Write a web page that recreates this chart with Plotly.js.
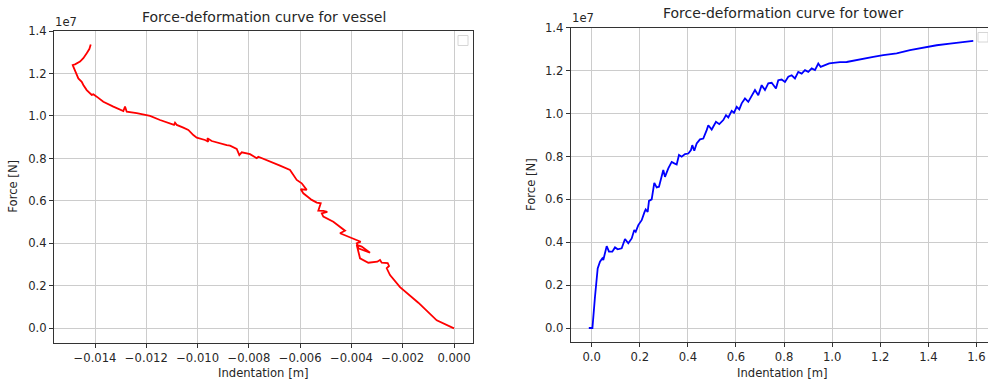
<!DOCTYPE html>
<html>
<head>
<meta charset="utf-8">
<script src="https://cdn.plot.ly/plotly-3.0.1.min.js"></script>
<style>
html,body{margin:0;padding:0;background:#fff;overflow:hidden;width:988px;height:383px;}
#chart{width:1000px;height:383px;}
</style>
</head>
<body>
<div id="chart"></div>
<script>
// Vessel: indentation [m] and force [1e7 N]
const vesselIndentation = [0, -0.000675, -0.001392, -0.002106, -0.002496, -0.002625, -0.002535, -0.002586, -0.00282, -0.002886,
  -0.002991, -0.003342, -0.003666, -0.003732, -0.003794, -0.0036, -0.003276, -0.003732, -0.003794, -0.003638,
  -0.003861, -0.004122, -0.004317, -0.004446, -0.004251, -0.004446, -0.004707, -0.005097, -0.005159, -0.004941,
  -0.005097, -0.005292, -0.005198, -0.005354, -0.005549, -0.005877, -0.005978, -0.005744, -0.0059, -0.005939,
  -0.006134, -0.006267, -0.006396, -0.006786, -0.007304, -0.007632, -0.007694, -0.007955, -0.008279, -0.008373,
  -0.008474, -0.008735, -0.008864, -0.009192, -0.009449, -0.00962, -0.009582, -0.00971, -0.010034, -0.010166,
  -0.010362, -0.010557, -0.010814, -0.01088, -0.010919, -0.011465, -0.01166, -0.011543, -0.011855, -0.012374,
  -0.012764, -0.01283, -0.012896, -0.013286, -0.013676, -0.013934, -0.014066, -0.014129, -0.014324, -0.014456,
  -0.014519, -0.014651, -0.014714, -0.01478, -0.014846, -0.01487, -0.01478, -0.014585, -0.014456, -0.014324,
  -0.014222, -0.014168];
const vesselForce = [0, 0.038, 0.121, 0.194, 0.251, 0.283, 0.294, 0.307, 0.309, 0.322,
  0.314, 0.309, 0.330, 0.361, 0.393, 0.385, 0.356, 0.377, 0.401, 0.408,
  0.419, 0.432, 0.440, 0.448, 0.460, 0.479, 0.502, 0.526, 0.542, 0.549,
  0.553, 0.554, 0.589, 0.592, 0.605, 0.636, 0.655, 0.652, 0.675, 0.683,
  0.699, 0.722, 0.746, 0.766, 0.793, 0.808, 0.801, 0.820, 0.829, 0.816,
  0.845, 0.860, 0.863, 0.874, 0.882, 0.895, 0.879, 0.887, 0.898, 0.910,
  0.934, 0.945, 0.958, 0.968, 0.958, 0.981, 0.992, 0.986, 1.000, 1.013,
  1.020, 1.044, 1.023, 1.044, 1.067, 1.091, 1.102, 1.099, 1.122, 1.146,
  1.161, 1.177, 1.193, 1.208, 1.232, 1.240, 1.243, 1.256, 1.272, 1.295,
  1.315, 1.336];

// Tower: indentation [m] and force [1e7 N]
const towerIndentation = [-0.012, 0.003, 0.0137, 0.0249, 0.0345, 0.0441, 0.0482, 0.0553, 0.0624, 0.0719,
  0.0857, 0.0969, 0.1081, 0.1247, 0.1385, 0.1522, 0.1663, 0.1771, 0.1830, 0.1938,
  0.2079, 0.2187, 0.2245, 0.2328, 0.2383, 0.2495, 0.2603, 0.2703, 0.2798, 0.2977,
  0.3048, 0.3185, 0.3326, 0.3435, 0.3534, 0.3630, 0.3742, 0.3879, 0.4017, 0.4129,
  0.4183, 0.4266, 0.4366, 0.4503, 0.4640, 0.4782, 0.4849, 0.4990, 0.5168, 0.5306,
  0.5472, 0.5584, 0.5680, 0.5821, 0.5917, 0.6029, 0.6137, 0.6237, 0.6374, 0.6511,
  0.6653, 0.6790, 0.6927, 0.7069, 0.7206, 0.7343, 0.7484, 0.7663, 0.7759, 0.7900,
  0.8037, 0.8175, 0.8316, 0.8453, 0.8590, 0.8732, 0.8869, 0.9006, 0.9148, 0.9285,
  0.9422, 0.9522, 0.9701, 0.9879, 1.0046, 1.0187, 1.0324, 1.0603, 1.0811, 1.0948,
  1.1293, 1.1709, 1.2125, 1.2682, 1.3235, 1.3788, 1.4345, 1.4898, 1.5451, 1.5867];
const towerForce = [0, 0, 0.146, 0.278, 0.309, 0.325, 0.317, 0.356, 0.382, 0.356,
  0.356, 0.376, 0.367, 0.372, 0.415, 0.395, 0.418, 0.457, 0.449, 0.480,
  0.503, 0.538, 0.553, 0.542, 0.593, 0.600, 0.677, 0.656, 0.659, 0.737,
  0.705, 0.745, 0.775, 0.768, 0.763, 0.807, 0.799, 0.811, 0.814, 0.830,
  0.853, 0.827, 0.861, 0.880, 0.884, 0.923, 0.946, 0.926, 0.962, 0.951,
  0.970, 0.993, 0.982, 1.013, 1.004, 1.032, 1.020, 1.048, 1.071, 1.055,
  1.086, 1.110, 1.086, 1.133, 1.110, 1.141, 1.144, 1.117, 1.156, 1.159,
  1.148, 1.172, 1.179, 1.164, 1.195, 1.187, 1.203, 1.195, 1.211, 1.203,
  1.234, 1.218, 1.226, 1.234, 1.237, 1.239, 1.240, 1.241, 1.246, 1.249,
  1.257, 1.265, 1.273, 1.281, 1.296, 1.309, 1.319, 1.327, 1.335, 1.339];

const titles = ["Force-deformation curve for vessel", "Force-deformation curve for tower"];
const xLabel = "Indentation [m]";
const yLabel = "Force [N]";
const offsetLabel = "1e7";

const W = 1000, H = 383;
const px = v => v / W;
const py = v => (H - v) / H;
const FONT = "DejaVu Sans, Liberation Sans, sans-serif";
const TXT = "#262626";
const SMALL = 11.6, BIG = 14;

const axisCommon = {
  showgrid: true, gridcolor: "#cccccc", gridwidth: 1,
  zeroline: false, showline: true, linecolor: "#333333", linewidth: 1, mirror: true,
  ticks: "outside", ticklen: 4, tickwidth: 1, tickcolor: "#333333",
  tickfont: {family: FONT, size: SMALL, color: TXT}
};

const traces = [
  {x: vesselIndentation, y: vesselForce, xaxis: "x", yaxis: "y", type: "scatter", mode: "lines",
   line: {color: "#ff0000", width: 1.8}, showlegend: false, hoverinfo: "skip"},
  {x: towerIndentation, y: towerForce, xaxis: "x2", yaxis: "y2", type: "scatter", mode: "lines",
   line: {color: "#0000ff", width: 1.8}, showlegend: false, hoverinfo: "skip"}
];

const layout = {
  width: W, height: H, autosize: false,
  margin: {l: 0, r: 0, t: 0, b: 0, pad: 0},
  paper_bgcolor: "#ffffff", plot_bgcolor: "#ffffff",
  font: {family: FONT, size: SMALL, color: TXT},
  showlegend: false,
  xaxis: Object.assign({}, axisCommon, {domain: [px(54), px(473)], range: [-0.0156, 0.00074],
    tick0: 0, dtick: 0.002, tickformat: ".3f", anchor: "y"}),
  yaxis: Object.assign({}, axisCommon, {domain: [py(342.7), py(30.7)], range: [-0.0673, 1.4014],
    tick0: 0, dtick: 0.2, tickformat: ".1f", anchor: "x"}),
  xaxis2: Object.assign({}, axisCommon, {domain: [px(570.7), px(994.5)], range: [-0.0873, 1.675],
    tick0: 0, dtick: 0.2, tickformat: ".1f", anchor: "y2"}),
  yaxis2: Object.assign({}, axisCommon, {domain: [py(342.3), py(27.6)], range: [-0.0667, 1.4014],
    tick0: 0, dtick: 0.2, tickformat: ".1f", anchor: "x2"}),
  annotations: [
    {text: titles[0], xref: "paper", yref: "paper", x: px(263.5), y: py(16.5), xanchor: "center", yanchor: "middle",
     showarrow: false, font: {family: FONT, size: BIG, color: TXT}},
    {text: titles[1], xref: "paper", yref: "paper", x: px(782.6), y: py(13.3), xanchor: "center", yanchor: "middle",
     showarrow: false, font: {family: FONT, size: BIG, color: TXT}},
    {text: offsetLabel, xref: "paper", yref: "paper", x: px(53), y: py(21.5), xanchor: "left", yanchor: "middle",
     showarrow: false, font: {family: FONT, size: SMALL, color: TXT}},
    {text: offsetLabel, xref: "paper", yref: "paper", x: px(570), y: py(18.3), xanchor: "left", yanchor: "middle",
     showarrow: false, font: {family: FONT, size: SMALL, color: TXT}},
    {text: xLabel, xref: "paper", yref: "paper", x: px(263), y: py(373.3), xanchor: "center", yanchor: "middle",
     showarrow: false, font: {family: FONT, size: SMALL, color: TXT}},
    {text: xLabel, xref: "paper", yref: "paper", x: px(782), y: py(373.3), xanchor: "center", yanchor: "middle",
     showarrow: false, font: {family: FONT, size: SMALL, color: TXT}},
    {text: yLabel, xref: "paper", yref: "paper", x: px(13), y: py(186.7), xanchor: "center", yanchor: "middle",
     textangle: -90, showarrow: false, font: {family: FONT, size: SMALL, color: TXT}},
    {text: yLabel, xref: "paper", yref: "paper", x: px(531), y: py(185), xanchor: "center", yanchor: "middle",
     textangle: -90, showarrow: false, font: {family: FONT, size: SMALL, color: TXT}}
  ],
  shapes: [
    {type: "rect", xref: "paper", yref: "paper", x0: px(458), x1: px(468), y0: py(45.5), y1: py(35.5),
     line: {color: "#d6d6d6", width: 1}, fillcolor: "rgba(255,255,255,0.8)", layer: "above"},
    {type: "rect", xref: "paper", yref: "paper", x0: px(978), x1: px(988), y0: py(42), y1: py(32.5),
     line: {color: "#d6d6d6", width: 1}, fillcolor: "rgba(255,255,255,0.8)", layer: "above"}
  ]
};

Plotly.newPlot("chart", traces, layout, {displayModeBar: false, staticPlot: true});
</script>
</body>
</html>
